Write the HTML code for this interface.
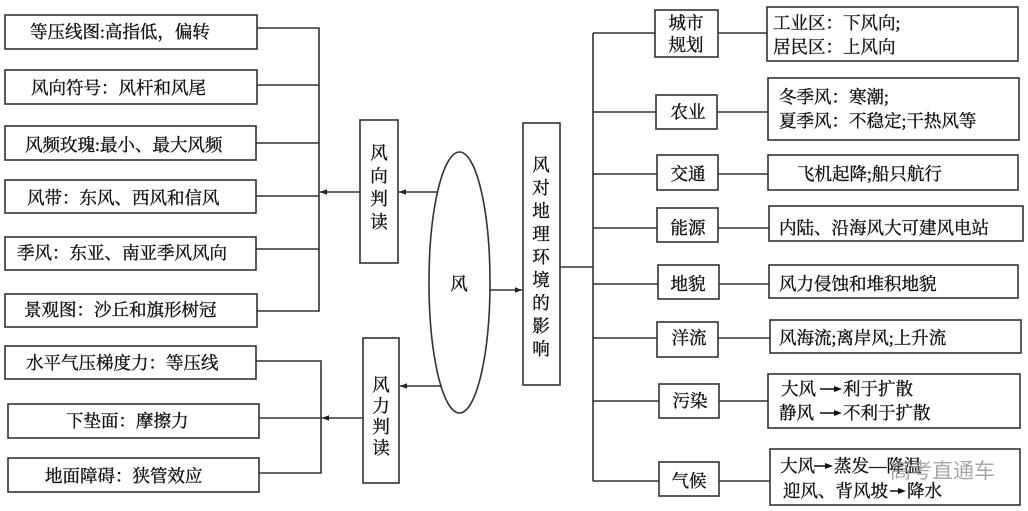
<!DOCTYPE html>
<html><head><meta charset="utf-8"><style>
html,body{margin:0;padding:0;background:#fff;width:1028px;height:511px;overflow:hidden}
svg text{font-family:"Liberation Serif","Noto Serif CJK SC",serif;font-size:17.5px;fill:#111;stroke:#111;stroke-width:0.35}
</style></head><body>
<svg width="1028" height="511" viewBox="0 0 1028 511" xmlns="http://www.w3.org/2000/svg">
<defs><marker id="a" viewBox="0 0 10 10" refX="10" refY="5" markerWidth="9" markerHeight="7" orient="auto" markerUnits="userSpaceOnUse"><path d="M0,1L10,5L0,9z" fill="#222"/></marker></defs>
<g fill="none" stroke="#333" stroke-width="1.6">
<rect x="5" y="15" width="252" height="34"/>
<rect x="5" y="70" width="252" height="34"/>
<rect x="5" y="126" width="251" height="34"/>
<rect x="5" y="180" width="251" height="33"/>
<rect x="5" y="237" width="251" height="33"/>
<rect x="5" y="294" width="252" height="33"/>
<rect x="5" y="346" width="251" height="33"/>
<rect x="8" y="404" width="251" height="34"/>
<rect x="8" y="458" width="251" height="34"/>
<path d="M257,28H319V311H257M257,85H319M256,143H319M256,196H319M256,249H319"/>
<path d="M256,361H321V473H259M259,418H321"/>
<rect x="360" y="120" width="38" height="143"/>
<rect x="363" y="338" width="36" height="145"/>
<ellipse cx="459.5" cy="282.5" rx="30.5" ry="130.5"/>
<path d="M360,192H320" marker-end="url(#a)"/>
<path d="M437,192H399" marker-end="url(#a)"/>
<path d="M363,418H322" marker-end="url(#a)"/>
<path d="M442,386H400" marker-end="url(#a)"/>
<path d="M490,290H522" marker-end="url(#a)"/>
<rect x="523" y="123" width="37" height="262"/>
<path d="M560,267H593M593,33V481"/>
<rect x="655" y="10" width="63" height="47"/>
<rect x="656" y="95" width="61" height="34"/>
<rect x="657" y="155" width="61" height="35"/>
<rect x="657" y="208" width="61" height="34"/>
<rect x="658" y="265" width="61" height="34"/>
<rect x="657" y="322" width="61" height="35"/>
<rect x="659" y="384" width="60" height="34"/>
<rect x="659" y="462" width="60" height="34"/>
<path d="M593,33H655M718,33H767M593,112H656M717,112H768M593,174H657M718,174H768M593,228H657M718,228H769M593,284H658M719,284H769M593,338H657M718,338H770M593,401H659M719,401H768M593,481H659M719,481H770"/>
<rect x="767" y="7" width="251" height="54"/>
<rect x="768" y="78" width="251" height="62"/>
<rect x="768" y="155" width="250" height="35"/>
<rect x="769" y="206" width="254" height="35"/>
<rect x="769" y="265" width="249" height="33"/>
<rect x="770" y="320" width="251" height="33"/>
<rect x="768" y="374" width="252" height="54"/>
<rect x="770" y="449" width="250" height="56"/>
<path d="M820,389H835M820,413H835M814,466H826M890,491H899" stroke="#111" stroke-width="1.5"/>
</g>
<g fill="#111">
<path d="M834,386L842,389L834,392zM834,410L842,413L834,416zM825,463L833,466L825,469zM898,488L906,491L898,494z"/>
</g>
<g>
<text x="30" y="38">等压线图:高指低，偏转</text>
<text x="31" y="94">风向符号：风杆和风尾</text>
<text x="25" y="151">风频玫瑰:最小、最大风频</text>
<text x="27" y="204">风带：东风、西风和信风</text>
<text x="17" y="259">季风：东亚、南亚季风风向</text>
<text x="24" y="316">景观图：沙丘和旗形树冠</text>
<text x="26" y="369">水平气压梯度力：等压线</text>
<text x="66" y="427">下垫面：摩擦力</text>
<text x="45" y="482">地面障碍：狭管效应</text>
<g text-anchor="middle">
<text x="379" y="159">风</text><text x="379" y="182">向</text><text x="379" y="205">判</text><text x="379" y="228">读</text>
<text x="381" y="391">风</text><text x="381" y="412">力</text><text x="381" y="433">判</text><text x="381" y="454">读</text>
<text x="459" y="290">风</text>
<text x="541" y="171">风</text><text x="541" y="194">对</text><text x="541" y="217">地</text><text x="541" y="240">理</text><text x="541" y="263">环</text><text x="541" y="286">境</text><text x="541" y="309">的</text><text x="541" y="332">影</text><text x="541" y="355">响</text>
<text x="686" y="29">城市</text><text x="686" y="51">规划</text>
<text x="688" y="118">农业</text>
<text x="688" y="180">交通</text>
<text x="688" y="234">能源</text>
<text x="688" y="290">地貌</text>
<text x="689" y="344">洋流</text>
<text x="690" y="407">污染</text>
<text x="689" y="487">气候</text>
</g>
<text x="773" y="29">工业区：下风向;</text>
<text x="773" y="53">居民区：上风向</text>
<text x="779" y="103">冬季风：寒潮;</text>
<text x="779" y="127">夏季风：不稳定;干热风等</text>
<text x="797" y="180">飞机起降;船只航行</text>
<text x="779" y="234">内陆、沿海风大可建风电站</text>
<text x="779" y="290">风力侵蚀和堆积地貌</text>
<text x="779" y="344">风海流;离岸风;上升流</text>
<text x="781" y="395">大风</text><text x="843" y="395">利于扩散</text>
<text x="779" y="419">静风</text><text x="843" y="419">不利于扩散</text>
<text x="780" y="472">大风</text><text x="834" y="472">蒸发—降温</text>
<text x="783" y="497">迎风、背风坡</text><text x="907" y="497">降水</text>
<text x="890" y="478" style="font-family:'Liberation Sans','Noto Sans CJK SC',sans-serif;font-size:21px;fill:#999;stroke:none;opacity:.85">高考直通车</text>
</g>
</svg>
</body></html>
